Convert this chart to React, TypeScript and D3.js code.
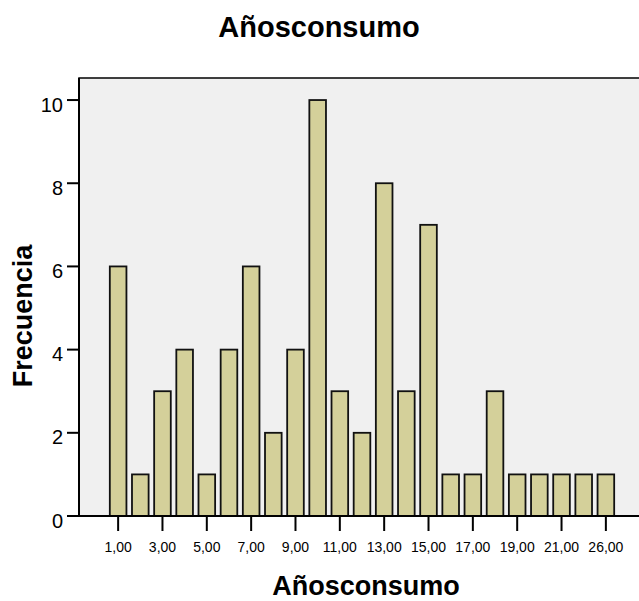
import { FC, useEffect, useRef } from 'react';
import * as d3 from 'd3';

const categories = [
  '1,00', '2,00', '3,00', '4,00', '5,00', '6,00', '7,00', '8,00', '9,00', '10,00',
  '11,00', '12,00', '13,00', '14,00', '15,00', '16,00', '17,00', '18,00', '19,00', '20,00',
  '21,00', '22,00', '26,00'
];
const frequencies = [6, 1, 3, 4, 1, 4, 6, 2, 4, 10, 3, 2, 8, 3, 7, 1, 1, 3, 1, 1, 1, 1, 1];
const yTicks = [0, 2, 4, 6, 8, 10];
// SPSS only labels every other category
const labelledCategories = categories.filter((_, i) => i % 2 === 0);

const App: FC = () => {
  const svgRef = useRef<SVGSVGElement>(null);

  useEffect(() => {
    if (!svgRef.current) return;
    const width = 639;
    const height = 601;
    const left = 79;
    const right = 645;
    const top = 78;
    const bottom = 516;
    const font = '"Liberation Sans", Arial, Helvetica, sans-serif';

    const svg = d3.select(svgRef.current);
    svg.selectAll('*').remove();
    svg.attr('width', width).attr('height', height);

    const x = d3.scaleBand<string>()
      .domain(categories)
      .range([left, right])
      .paddingInner(0.25)
      .paddingOuter(1.39);

    const y = d3.scaleLinear()
      .domain([0, 10.53])
      .range([bottom, top]);

    // plot background
    svg.append('rect')
      .attr('x', left)
      .attr('y', top)
      .attr('width', right - left)
      .attr('height', bottom - top)
      .attr('fill', '#f0f0f0')
      .attr('stroke', '#000')
      .attr('stroke-width', 1.5);

    // bars
    svg.append('g')
      .selectAll('rect')
      .data(frequencies)
      .join('rect')
      .attr('x', (_, i) => x(categories[i])!)
      .attr('y', d => y(d))
      .attr('width', x.bandwidth())
      .attr('height', d => y(0) - y(d))
      .attr('fill', '#d4d09a')
      .attr('stroke', '#111')
      .attr('stroke-width', 1.8);

    // y axis
    const yAxis = svg.append('g');
    yTicks.forEach(t => {
      yAxis.append('line')
        .attr('x1', left - 12).attr('x2', left)
        .attr('y1', y(t)).attr('y2', y(t))
        .attr('stroke', '#000').attr('stroke-width', 2);
      yAxis.append('text')
        .attr('x', left - 16)
        .attr('y', y(t) + 11.5)
        .attr('text-anchor', 'end')
        .attr('font-family', font)
        .attr('font-size', 20)
        .attr('fill', '#000')
        .text(t.toString());
    });
    yAxis.append('line')
      .attr('x1', left).attr('x2', left)
      .attr('y1', top).attr('y2', bottom)
      .attr('stroke', '#000').attr('stroke-width', 2);

    // x axis
    const xAxis = svg.append('g');
    xAxis.append('line')
      .attr('x1', left - 12).attr('x2', right)
      .attr('y1', bottom).attr('y2', bottom)
      .attr('stroke', '#000').attr('stroke-width', 2);
    labelledCategories.forEach(c => {
      const cx = x(c)! + x.bandwidth() / 2;
      xAxis.append('line')
        .attr('x1', cx).attr('x2', cx)
        .attr('y1', bottom).attr('y2', bottom + 15)
        .attr('stroke', '#000').attr('stroke-width', 2);
      xAxis.append('text')
        .attr('x', cx)
        .attr('y', bottom + 36)
        .attr('text-anchor', 'middle')
        .attr('font-family', font)
        .attr('font-size', 14)
        .attr('fill', '#000')
        .text(c);
    });

    // titles
    svg.append('text')
      .attr('x', 319)
      .attr('y', 37)
      .attr('text-anchor', 'middle')
      .attr('font-family', font)
      .attr('font-size', 29)
      .attr('font-weight', 'bold')
      .text('Añosconsumo');

    svg.append('text')
      .attr('x', 366)
      .attr('y', 595)
      .attr('text-anchor', 'middle')
      .attr('font-family', font)
      .attr('font-size', 27)
      .attr('font-weight', 'bold')
      .text('Añosconsumo');

    svg.append('text')
      .attr('transform', 'translate(32,316) rotate(-90)')
      .attr('text-anchor', 'middle')
      .attr('font-family', font)
      .attr('font-size', 27)
      .attr('font-weight', 'bold')
      .text('Frecuencia');
  }, []);

  return (
    <svg ref={svgRef} style={{ position: 'absolute', left: 0, top: 0, background: '#fff' }} />
  );
};

export default App;
